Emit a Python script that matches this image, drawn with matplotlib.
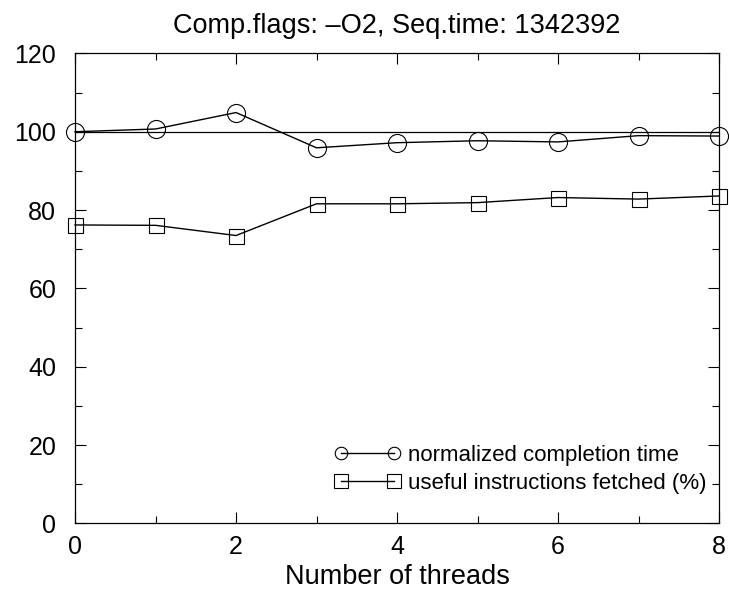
import matplotlib
matplotlib.use("Agg")
import matplotlib.pyplot as plt
from matplotlib.ticker import MultipleLocator
from matplotlib.lines import Line2D
from matplotlib.legend_handler import HandlerLine2D

plt.rcParams['font.family'] = ['Liberation Sans', 'DejaVu Sans']

threads = [0, 1, 2, 3, 4, 5, 6, 7, 8]
completion_time = [100.0, 100.7, 104.9, 95.9, 97.2, 97.7, 97.4, 99.0, 98.9]
useful_fetched = [76.2, 76.1, 73.5, 81.6, 81.6, 81.9, 83.2, 82.8, 83.6]
reference_level = 100

title = "Comp.flags: \u2013O2, Seq.time: 1342392"
xlabel = "Number of threads"
labels = ["normalized completion time", "useful instructions fetched (%)"]

W, H = 729, 597
fig = plt.figure(figsize=(W / 100, H / 100), dpi=100)
ax_l, ax_r, ax_t, ax_b = 75, 719, 53.4, 523.4
ax = fig.add_axes([ax_l / W, 1 - ax_b / H, (ax_r - ax_l) / W, (ax_b - ax_t) / H])

ax.axhline(reference_level, color='black', lw=0.9, zorder=1)
ax.plot(threads, completion_time, color='black', lw=1.0, marker='o', ms=13,
        mfc='none', mec='black', mew=0.8, clip_on=False, zorder=3)
ax.plot(threads, useful_fetched, color='black', lw=1.0, marker='s', ms=10.8,
        mfc='none', mec='black', mew=0.8, clip_on=False, zorder=3)

ax.set_xlim(0, 8)
ax.set_ylim(0, 120)
ax.xaxis.set_major_locator(MultipleLocator(2))
ax.xaxis.set_minor_locator(MultipleLocator(1))
ax.yaxis.set_major_locator(MultipleLocator(20))
ax.yaxis.set_minor_locator(MultipleLocator(10))
ax.tick_params(which='both', direction='in', top=True, right=True, labelsize=18, width=0.8)
ax.tick_params(which='major', length=8)
ax.tick_params(which='minor', length=5)
ax.tick_params(axis='x', which='major', pad=8)
ax.tick_params(axis='y', which='major', pad=13.5)
for s in ax.spines.values():
    s.set_linewidth(0.9)

ax.set_title(title, fontsize=19.5, pad=15)
ax.set_xlabel(xlabel, fontsize=19.5)
ax.xaxis.label.set_va('baseline')
ax.xaxis.set_label_coords(0.5, -(584 - ax_b) / (ax_b - ax_t))

handles = [
    Line2D([], [], color='black', lw=1.0, marker='o', ms=9, mfc='none', mec='black', mew=0.8),
    Line2D([], [], color='black', lw=1.0, marker='s', ms=9.5, mfc='none', mec='black', mew=0.8),
]
ax.legend(handles, labels, loc='lower right', frameon=False, fontsize=16, numpoints=2,
          handler_map={Line2D: HandlerLine2D(marker_pad=0.0, numpoints=2)},
          handlelength=2.4, handletextpad=0.6, labelspacing=0.3, borderpad=0.4,
          borderaxespad=0, bbox_to_anchor=(1 - 4 / (ax_r - ax_l), 21 / (ax_b - ax_t)))

fig.savefig("out.png", dpi=100)
